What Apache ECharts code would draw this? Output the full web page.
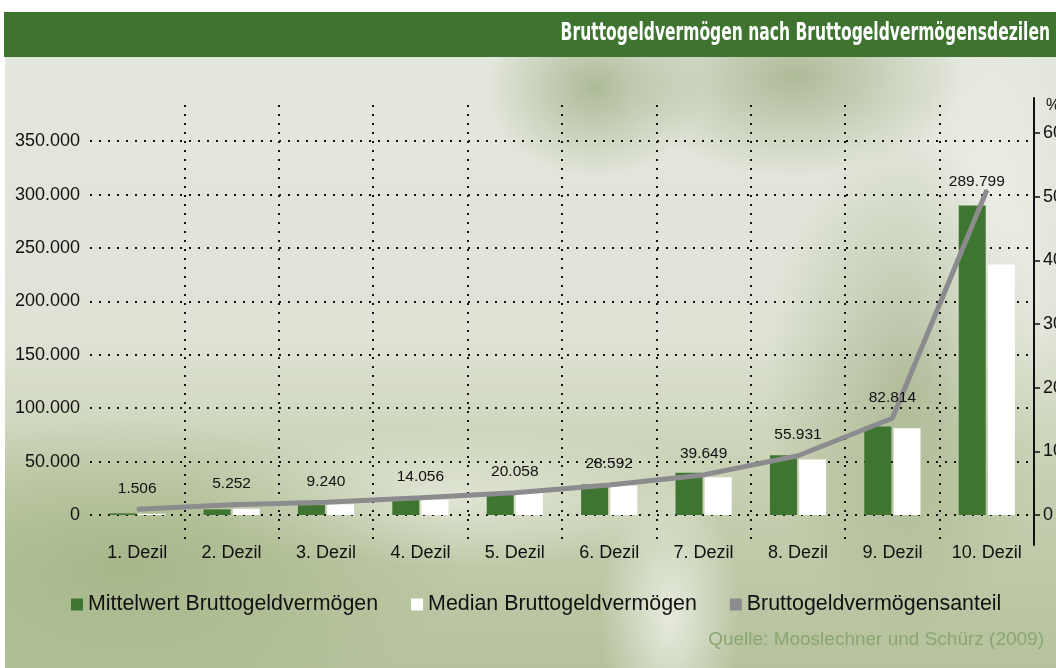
<!DOCTYPE html>
<html>
<head>
<meta charset="utf-8">
<script src="https://cdn.jsdelivr.net/npm/echarts@6/dist/echarts.min.js"></script>
<style>
html, body { margin: 0; padding: 0; background: #fff; }
#bg {
    position: absolute; left: 5px; top: 57px; width: 1051px; height: 611px;
    background:
        radial-gradient(ellipse 110px 90px at 590px 30px, rgba(150,168,122,0.7), rgba(150,168,122,0)),
        radial-gradient(ellipse 170px 100px at 790px 20px, rgba(145,163,115,0.65), rgba(145,163,115,0)),
        radial-gradient(ellipse 140px 250px at 900px 330px, rgba(145,163,115,0.55), rgba(145,163,115,0)),
        radial-gradient(ellipse 80px 220px at 985px 180px, rgba(240,242,235,0.8), rgba(240,242,235,0)),
        radial-gradient(ellipse 340px 150px at 120px 510px, rgba(160,178,130,0.8), rgba(160,178,130,0)),
        radial-gradient(ellipse 280px 70px at 450px 440px, rgba(230,234,222,0.8), rgba(230,234,222,0)),
        radial-gradient(ellipse 70px 140px at 665px 560px, rgba(235,238,228,0.9), rgba(235,238,228,0)),
        linear-gradient(to bottom, #e4e7dd 0%, #dfe3d6 45%, #c6cfb0 70%, #b5c29d 100%);
}
#main { position: absolute; left: 0; top: 0; width: 1056px; height: 668px; }
</style>
</head>
<body>
<div id="bg"></div>
<div id="main"></div>
<script>
// Daten
var categories = ['1. Dezil', '2. Dezil', '3. Dezil', '4. Dezil', '5. Dezil',
                  '6. Dezil', '7. Dezil', '8. Dezil', '9. Dezil', '10. Dezil'];
var mittelwert = [1506, 5252, 9240, 14056, 20058, 28592, 39649, 55931, 82814, 289799];
var median = [1100, 5900, 10000, 14300, 20900, 27600, 35400, 52000, 81300, 234500];
var anteil = [0.9, 1.6, 2.0, 2.7, 3.5, 4.7, 6.3, 9.3, 15.2, 51.0];
var prozentTicks = [0, 10, 20, 30, 40, 50, 60];

function tausender(v) {
    return String(v).replace(/\B(?=(\d{3})+(?!\d))/g, '.');
}

var dots = { type: [2, 7], width: 2, color: '#111' };

var lineData = anteil.map(function (v, i) {
    var item = { value: v };
    if (i === anteil.length - 1) {
        item.label = { position: 'top', distance: 0, offset: [-10, 0] };
    }
    return item;
});

var myChart = echarts.init(document.getElementById('main'));

var option = {
    textStyle: { fontFamily: 'Liberation Sans, Arial, sans-serif' },
    title: {
        text: 'Quelle: Mooslechner und Schürz (2009)',
        right: 7,
        top: 625,
        textStyle: { fontSize: 19, fontWeight: 'normal', color: '#8aa672' }
    },
    graphic: [
        { type: 'rect', shape: { x: 4, y: 12, width: 1052, height: 45 }, style: { fill: '#3e7430' } },
        {
            type: 'text', x: 1050, y: 34, scaleX: 0.72,
            style: {
                text: 'Bruttogeldvermögen nach Bruttogeldvermögensdezilen',
                fill: '#fff', align: 'right', verticalAlign: 'middle',
                font: 'bold 24px "DejaVu Sans Condensed", sans-serif'
            }
        }
    ],
    legend: {
        left: 66,
        top: 589,
        itemWidth: 12,
        itemHeight: 12,
        itemGap: 33,
        textStyle: { fontSize: 21.4, color: '#111' },
        data: [
            { name: 'Mittelwert Bruttogeldvermögen', icon: 'rect' },
            { name: 'Median Bruttogeldvermögen', icon: 'rect' },
            { name: 'Bruttogeldvermögensanteil', icon: 'rect' }
        ]
    },
    grid: [
        { left: 90, right: 22, top: 98, bottom: 153, outerBoundsMode: 'none' },
        { left: 90, right: 22, top: 105, bottom: 123, outerBoundsMode: 'none' }
    ],
    xAxis: [
        {
            type: 'category', gridIndex: 0, data: categories,
            axisLine: { show: false }, axisTick: { show: false },
            axisLabel: { margin: 29, fontSize: 18, color: '#111' }
        },
        {
            type: 'category', gridIndex: 1, data: categories,
            axisLine: { show: false }, axisTick: { show: false }, axisLabel: { show: false },
            splitLine: { show: true, interval: 0, showMinLine: false, showMaxLine: false, lineStyle: dots }
        }
    ],
    yAxis: [
        {
            type: 'value', gridIndex: 0, position: 'left',
            min: 0, max: 390400, interval: 50000,
            axisLine: { show: false }, axisTick: { show: false },
            axisLabel: { fontSize: 18, color: '#111', margin: 10, showMaxLabel: false, formatter: tausender },
            splitLine: { show: true, showMaxLine: false, lineStyle: dots }
        },
        {
            type: 'value', gridIndex: 0, position: 'right',
            min: 0, max: 65.5,
            name: '%', nameLocation: 'end', nameGap: -16,
            nameTextStyle: { fontSize: 16, color: '#111', align: 'left', padding: [0, 0, 0, 12] },
            axisLine: { show: true, lineStyle: { color: '#111', width: 2 } },
            axisTick: { show: true, length: 6, customValues: prozentTicks, lineStyle: { color: '#111', width: 1.5 } },
            axisLabel: { fontSize: 18, color: '#111', margin: 9, customValues: prozentTicks },
            splitLine: { show: false }
        },
        {
            type: 'value', gridIndex: 1, position: 'right', min: 0, max: 1,
            axisLine: { show: true, lineStyle: { color: '#111', width: 2 } },
            axisTick: { show: false }, axisLabel: { show: false }, splitLine: { show: false }
        }
    ],
    series: [
        {
            name: 'Mittelwert Bruttogeldvermögen',
            type: 'bar', xAxisIndex: 0, yAxisIndex: 0,
            barWidth: 27, barGap: '8%',
            itemStyle: { color: '#3e7530' },
            data: mittelwert
        },
        {
            name: 'Median Bruttogeldvermögen',
            type: 'bar', xAxisIndex: 0, yAxisIndex: 0,
            barWidth: 27, barGap: '8%',
            itemStyle: { color: '#ffffff' },
            data: median
        },
        {
            name: 'Bruttogeldvermögensanteil',
            type: 'line', xAxisIndex: 0, yAxisIndex: 1,
            symbol: 'circle', symbolSize: 2,
            itemStyle: { color: '#8c8c8f' },
            lineStyle: { color: '#8c8c8f', width: 5 },
            label: {
                show: true, position: 'top', distance: 12,
                fontSize: 15.5, color: '#111',
                formatter: function (p) { return tausender(mittelwert[p.dataIndex]); }
            },
            data: lineData
        }
    ]
};

myChart.setOption(option);
</script>
</body>
</html>
